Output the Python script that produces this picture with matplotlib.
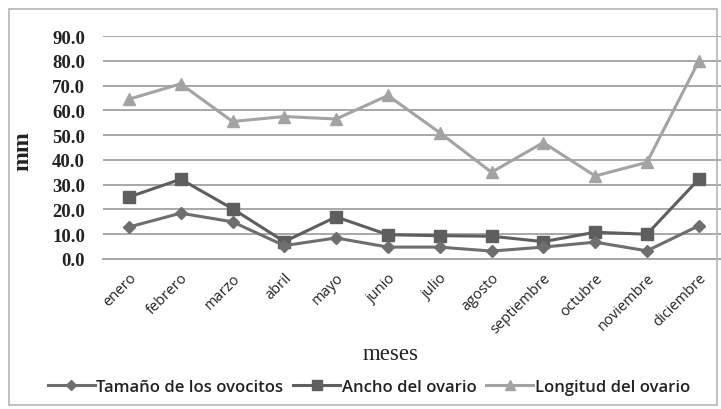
import matplotlib.pyplot as plt
from matplotlib.patches import Rectangle

meses = ['enero', 'febrero', 'marzo', 'abril', 'mayo', 'junio', 'julio',
         'agosto', 'septiembre', 'octubre', 'noviembre', 'diciembre']
tamano_ovocitos = [12.9, 18.5, 15.0, 5.4, 8.5, 4.8, 4.8, 3.2, 4.8, 6.8, 3.3, 13.4]
ancho_ovario = [25.0, 32.2, 20.3, 7.0, 17.0, 9.8, 9.4, 9.2, 7.0, 10.8, 10.0, 32.2]
longitud_ovario = [64.5, 70.7, 55.5, 57.5, 56.5, 66.0, 51.0, 35.0, 47.0, 33.5, 39.0, 79.8]
yticks = [0, 10, 20, 30, 40, 50, 60, 70, 80, 90]

W, H = 721, 410
fig = plt.figure(figsize=(W / 100, H / 100), dpi=100)
fig.patch.set_facecolor('white')

# marco exterior del grafico
fig.patches.append(Rectangle((9 / W, 1 - 406 / H), 708 / W, 396 / H,
                             transform=fig.transFigure, fill=False,
                             edgecolor='#b5b5b5', linewidth=1.2))

ax = fig.add_axes([103 / W, 1 - 260 / H, (721 - 103) / W, (260 - 37) / H])
x = list(range(len(meses)))

ax.plot(x, longitud_ovario, color='#a3a3a3', linewidth=2.2, marker='^',
        markersize=9, label='Longitud del ovario', zorder=3)
ax.plot(x, ancho_ovario, color='#5e5e5e', linewidth=2.2, marker='s',
        markersize=9, label='Ancho del ovario', zorder=4)
ax.plot(x, tamano_ovocitos, color='#6e6e6e', linewidth=2.2, marker='D',
        markersize=6, label='Tamaño de los ovocitos', zorder=5)

ax.set_xlim(-0.5, 11.43)
ax.set_ylim(0, 90)
ax.set_yticks(yticks)
ax.set_yticklabels([f'{v:.1f}' for v in yticks], family='Liberation Serif',
                   fontweight='bold', fontsize=13.5, color='#222222')
ax.yaxis.grid(True, color='#a8a8a8', linewidth=1.4)
ax.set_axisbelow(True)
ax.tick_params(axis='y', length=0, pad=13)

ax.set_xticks(x)
ax.set_xticklabels(meses, rotation=45, ha='right', rotation_mode='anchor',
                   family='Open Sans', fontsize=10.5, color='#222222')
ax.tick_params(axis='x', length=0, pad=8)

for s in ['top', 'right', 'left']:
    ax.spines[s].set_visible(False)
ax.spines['bottom'].set_color('#a8a8a8')
ax.spines['bottom'].set_linewidth(1.4)

fig.text(23 / W, 1 - 151 / H, 'mm', rotation=90, ha='center', va='center',
         family='Liberation Serif', fontweight='bold', fontsize=17, color='#222222')
fig.text(391 / W, 1 - 355 / H, 'meses', ha='center', va='center',
         family='Liberation Serif', fontsize=16.5, color='#222222')

handles, labels = ax.get_legend_handles_labels()
leg = fig.legend(handles[::-1], labels[::-1], loc='center',
                 bbox_to_anchor=(369 / W, 1 - 388 / H), ncol=3, frameon=False,
                 handlelength=2.8, handletextpad=0.1, columnspacing=0.6,
                 prop={'family': 'Open Sans', 'weight': 'semibold', 'size': 12},
                 markerscale=0.8)
for t in leg.get_texts():
    t.set_color('#222222')

fig.savefig('out.png', dpi=100, facecolor='white')
